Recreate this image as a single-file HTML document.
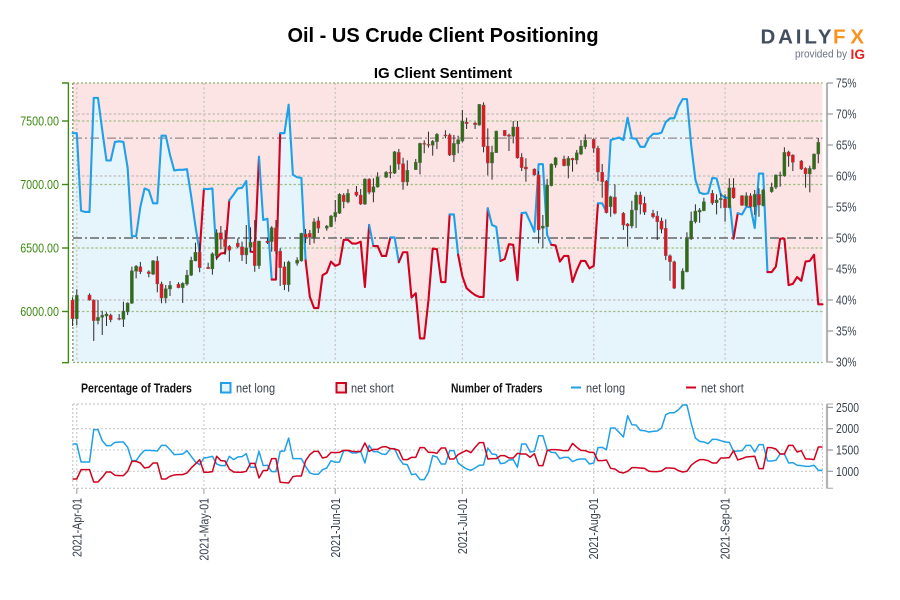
<!DOCTYPE html>
<html lang="en">
<head>
<meta charset="utf-8">
<title>Oil - US Crude Client Positioning</title>
<style>
html,body{margin:0;padding:0;background:#fff}
svg{display:block;font-family:"Liberation Sans",Arial,sans-serif}
</style>
</head>
<body>
<svg id="chart" width="900" height="600" viewBox="0 0 900 600" xmlns="http://www.w3.org/2000/svg">
  <defs>
    <clipPath id="clip-above"><rect x="73" y="83" width="749.5" height="155"/></clipPath>
    <clipPath id="clip-below"><rect x="73" y="238" width="749.5" height="124"/></clipPath>
    <clipPath id="clip-plot"><rect x="72" y="83" width="751" height="280"/></clipPath>
  </defs>
  <rect x="0" y="0" width="900" height="600" fill="#ffffff"/>
  <text x="443" y="42" text-anchor="middle" font-size="20" font-weight="bold" fill="#000">Oil - US Crude Client Positioning</text>
  <text x="443" y="78" text-anchor="middle" font-size="15" font-weight="bold" fill="#000">IG Client Sentiment</text>
  <g>
    <text x="760.5" y="43.4" font-size="20.5" font-weight="bold" fill="#434e5e" textLength="71" lengthAdjust="spacing">DAILY</text>
    <text x="833" y="43.4" font-size="20.5" font-weight="bold" fill="#f7931e" textLength="31" lengthAdjust="spacing">FX</text>
    <text x="795" y="57.5" font-size="11" fill="#6b7380" textLength="52" lengthAdjust="spacingAndGlyphs">provided by</text>
    <text x="850.5" y="59" font-size="14" font-weight="bold" fill="#e0261c" textLength="14.5" lengthAdjust="spacingAndGlyphs">IG</text>
  </g>
  <g id="main-panel"></g>
  <g id="legend"></g>
  <g id="lower-panel"></g>
</svg>
<script>
// ---- chart data ----
const monthLabels = ['2021-Apr-01','2021-May-01','2021-Jun-01','2021-Jul-01','2021-Aug-01','2021-Sep-01'];
const monthDays = [0,30,61,91,122,153];
const priceTicks = [6000,6500,7000,7500];
const percentTicks = [30,35,40,45,50,55,60,65,70,75];
const percentGrid = [40,60,70];
const countTicks = [1000,1500,2000,2500];
const lastPrice = 7365;
const seriesStartDay = -1;

// [day offset from 2021-04-01, open, high, low, close]
const candles = [
[-1,6090,6112,5886,5943],[0,5943,6175,5891,6128],[3,6130,6143,6085,6090],[4,6090,6096,5768,5928],[5,5928,6090,5899,5954],[6,5954,6006,5815,5970],[7,5964,5994,5886,5980],[8,5972,5983,5915,5935],
[10,5946,5980,5931,5941],[11,5938,6077,5878,6004],[12,5996,6072,5972,6067],[13,6065,6353,6059,6321],[14,6317,6366,6261,6356],[15,6353,6390,6295,6313],
[17,6313,6324,6269,6298],[18,6293,6405,6287,6400],[19,6398,6435,6151,6217],[20,6217,6235,6065,6106],[21,6106,6209,6065,6180],[22,6177,6240,6122,6206],
[24,6216,6230,6183,6187],[25,6187,6230,6067,6222],[26,6216,6327,6203,6287],[27,6285,6431,6279,6403],[28,6398,6542,6395,6466],[29,6466,6537,6309,6345],
[31,6348,6384,6335,6337],[32,6335,6466,6290,6455],[33,6439,6647,6405,6620],[34,6620,6673,6490,6568],[35,6568,6642,6445,6510],[36,6513,6524,6392,6482],
[38,6539,6576,6498,6510],[39,6510,6550,6398,6445],[40,6445,6681,6374,6502],[41,6505,6663,6471,6545],[42,6550,6720,6313,6361],[43,6361,6557,6335,6555],
[45,6555,6582,6531,6542],[46,6550,6672,6471,6660],[47,6660,6720,6452,6474],[48,6476,6498,6201,6345],[49,6353,6392,6169,6211],[50,6211,6400,6156,6390],
[52,6379,6427,6361,6405],[53,6398,6620,6392,6616],[54,6610,6650,6539,6584],[55,6616,6642,6524,6584],[56,6576,6734,6537,6707],[57,6715,6746,6618,6655],
[59,6655,6681,6636,6673],[60,6668,6760,6663,6752],[61,6744,6878,6707,6781],[62,6773,6931,6768,6923],[63,6917,6931,6813,6865],[64,6862,6964,6852,6931],
[66,6941,6988,6904,6915],[67,6917,6964,6839,6846],[68,6846,7049,6839,7043],[69,7043,7049,6923,6939],[70,6939,7049,6860,6983],[71,6980,7096,6975,7061],
[73,7057,7106,7051,7096],[74,7096,7151,7049,7090],[75,7088,7264,7083,7258],[76,7253,7280,7116,7161],[77,7164,7211,6959,7020],[78,7020,7190,6990,7112],
[80,7116,7201,7114,7175],[81,7172,7329,7080,7324],[82,7324,7348,7246,7316],[83,7316,7416,7290,7311],[84,7309,7350,7227,7340],[85,7337,7405,7279,7395],
[87,7390,7427,7364,7384],[88,7390,7403,7224,7232],[89,7232,7390,7177,7324],[90,7319,7384,7246,7353],[91,7342,7587,7332,7500],[92,7492,7526,7437,7479],
[94,7484,7494,7437,7471],[95,7468,7634,7463,7631],[96,7626,7647,7253,7298],[97,7303,7442,7072,7169],[98,7169,7305,7038,7253],[99,7250,7424,7248,7421],
[101,7427,7429,7380,7384],[102,7390,7400,7264,7379],[103,7379,7500,7324,7453],[104,7453,7500,7203,7209],[105,7214,7246,7106,7132],[106,7138,7206,7022,7122],
[108,7122,7127,7069,7075],[109,7075,7106,6537,6642],[110,6655,6760,6498,6673],[111,6668,7043,6665,6996],[112,6990,7167,6985,7161],[113,7153,7217,7132,7211],
[115,7201,7227,7143,7148],[116,7148,7224,7049,7206],[117,7206,7211,7101,7193],[118,7193,7272,7159,7250],[119,7240,7350,7232,7303],[120,7298,7395,7279,7350],
[122,7356,7364,7250,7285],[123,7285,7305,7027,7098],[124,7096,7161,6896,7022],[125,7027,7035,6772,6778],[126,6825,6912,6746,6904],[127,6901,7001,6765,6773],
[129,6773,6783,6642,6681],[130,6689,6697,6510,6673],[131,6673,6872,6655,6799],[132,6799,6943,6657,6917],[133,6917,6943,6765,6844],[134,6852,6904,6760,6781],
[136,6773,6801,6734,6746],[137,6752,6791,6563,6707],[138,6713,6739,6616,6647],[139,6655,6726,6405,6439],[140,6439,6450,6242,6392],[141,6392,6400,6177,6183],
[143,6177,6340,6172,6319],[144,6313,6624,6308,6576],[145,6571,6786,6563,6713],[146,6707,6844,6694,6791],[147,6783,6815,6699,6799],[148,6794,6896,6789,6865],
[150,6931,6957,6839,6854],[151,6857,6923,6765,6878],[152,6880,6931,6813,6891],[153,6886,6923,6707,6817],[154,6817,7049,6813,6975],[155,6975,7049,6888,6894],
[157,6912,6917,6831,6836],[158,6833,6938,6825,6912],[159,6912,6931,6817,6825],[160,6823,6957,6760,6923],[161,6923,6970,6746,6839],[162,6833,6965,6828,6957],
[164,6943,7014,6935,6980],[165,6978,7080,6964,7075],[166,7067,7101,6983,7075],[167,7067,7293,7061,7253],[168,7256,7266,7140,7224],[169,7232,7238,7106,7175],
[171,7185,7193,7114,7122],[172,7127,7135,6975,7083],[173,7083,7148,6938,7127],[174,7122,7245,7116,7240],[175,7240,7368,7167,7332]
];

// percent of traders net long, one value per calendar day from seriesStartDay
const percentLong = [
66.9,66.9,54.4,54.2,54.2,72.6,72.6,67.4,62.5,62.5,65.5,65.6,65.5,61.3,50.3,50.3,55.0,58.0,57.7,55.6,55.6,66.5,66.5,63.4,60.9,61.0,61.0,61.1,56.7,51.9,
47.7,57.9,57.9,58.0,46.8,47.5,47.6,56.1,57.0,58.0,58.1,59.2,47.8,47.7,63.1,52.9,53.1,43.3,43.3,66.9,66.9,71.5,60.2,59.8,59.7,46.4,40.5,38.7,38.7,44.0,
44.4,46.2,45.5,45.8,49.7,49.7,49.1,49.1,49.4,42.1,52.1,48.7,48.7,47.1,47.1,50.1,50.1,46.1,47.7,47.7,40.4,41.1,33.8,33.8,40.0,48.3,48.2,42.9,42.9,53.8,
53.8,47.3,43.8,41.9,41.3,40.8,40.5,40.5,54.8,52.1,51.8,46.3,46.6,49.0,48.9,43.2,54.0,54.1,52.6,51.0,61.9,61.9,50.5,48.9,48.8,46.2,47.1,47.1,42.9,44.8,
46.3,46.3,45.1,45.5,55.6,55.6,54.2,65.8,66.0,66.2,65.8,69.4,66.1,66.0,64.7,64.7,66.1,66.8,66.8,67.0,68.7,69.3,69.3,71.2,72.4,72.4,65.0,59.4,57.3,57.1,
57.2,59.7,59.6,57.0,56.5,56.5,49.9,54.0,53.8,55.0,55.0,51.6,60.4,60.4,44.5,44.5,45.4,49.9,49.9,42.4,42.6,43.7,43.1,46.2,46.3,47.3,39.3,39.3
];

// number of traders net long, one value per calendar day from seriesStartDay
const countLong = [
1641,1641,1219,1219,1219,1977,1977,1719,1602,1602,1680,1688,1688,1563,1250,1250,1391,1492,1492,1484,1477,1609,1609,1508,1391,1398,1406,1484,1352,1219,
1156,1313,1328,1352,1172,1133,1133,1352,1273,1336,1344,1414,1094,1094,1469,1133,1141,992,992,1469,1477,1781,1297,1297,1297,1117,961,930,930,1039,
1078,1250,1211,1219,1484,1484,1430,1430,1469,1195,1609,1461,1461,1406,1398,1531,1531,1313,1172,1156,922,938,805,805,977,1367,1336,1172,1172,1484,
1484,1195,1117,1055,1023,1078,1141,1148,1547,1406,1391,1180,1195,1266,1273,1094,1641,1641,1453,1469,1836,1836,1508,1445,1437,1297,1328,1328,1227,1273,
1289,1289,1172,1195,1555,1563,1508,2016,2016,1914,1805,2305,2094,2086,1961,1953,1922,1937,1945,2016,2328,2375,2375,2445,2555,2555,2133,1781,1703,1688,
1648,1750,1750,1719,1688,1680,1469,1477,1484,1609,1609,1453,1625,1625,1242,1242,1258,1406,1406,1195,1203,1141,1133,1117,1117,1141,1023,1023
];

// number of traders net short, one value per calendar day from seriesStartDay
const countShort = [
820,820,1039,1039,1039,750,750,859,984,984,906,898,898,1000,1234,1234,1195,1078,1094,1195,1195,820,820,883,914,922,922,961,1078,1172,
1273,977,977,992,1352,1250,1242,1055,984,977,977,1000,1187,1187,844,1016,1023,1297,1297,742,734,726,875,891,891,1250,1391,1469,1469,1313,
1336,1445,1437,1445,1492,1492,1469,1461,1469,1664,1469,1516,1516,1570,1578,1531,1523,1492,1273,1273,1328,1328,1555,1555,1445,1445,1422,1547,1547,1289,
1289,1391,1445,1492,1437,1563,1672,1672,1289,1297,1297,1367,1367,1313,1313,1422,1406,1406,1328,1414,1133,1133,1484,1508,1508,1500,1484,1484,1656,1563,
1492,1484,1445,1445,1250,1250,1266,1070,1055,984,961,1000,1086,1086,1078,1070,1000,992,992,1008,1078,1078,1070,1016,984,1000,1141,1219,1273,1273,
1250,1195,1195,1313,1313,1320,1484,1266,1297,1336,1344,1352,1062,1062,1555,1555,1523,1406,1406,1609,1609,1453,1484,1289,1289,1273,1570,1570
];

// ---- scales ----
const SVGNS = 'http://www.w3.org/2000/svg';
const xDay = d => 76.8 + 4.237 * d;
const yPrice = p => 311.5 - (p - 6000) * 63.5 / 500;
const yPct = v => 362 - (v - 30) * 6.2;
const yCount = v => 471.3 - (v - 1000) * 21.3 / 500;

const COL = {blue:'#1fa0e8', red:'#d0021f', pink:'#fce4e5', sky:'#e6f4fc', green:'#3c8a12', grey:'#b9b9b9', axisText:'#39434f'};

function svgEl(tag, attrs, parent) {
  const el = document.createElementNS(SVGNS, tag);
  for (const k in attrs) el.setAttribute(k, attrs[k]);
  parent.appendChild(el);
  return el;
}

const main = document.getElementById('main-panel');
const legend = document.getElementById('legend');
const lower = document.getElementById('lower-panel');

// ---- main panel backgrounds ----
let el = svgEl('rect', {x:73, y:83, width:749.5, height:yPct(50)-83, fill:COL.pink}, main);


el = svgEl('rect', {x:73, y:yPct(50), width:749.5, height:362-yPct(50), fill:COL.sky}, main);



// ---- sentiment area fills ----
const sentimentPoints = percentLong.map((v,i) => [xDay(i+seriesStartDay), yPct(v)]);
const first = sentimentPoints[0], last = sentimentPoints[sentimentPoints.length-1];
const areaPts = [[first[0],yPct(50)]].concat(sentimentPoints, [[last[0],yPct(50)]]).map(p => p[0].toFixed(2)+','+p[1].toFixed(2)).join(' ');
el = svgEl('polygon', {points:areaPts, fill:COL.sky, 'clip-path':'url(#clip-above)'}, main);


el = svgEl('polygon', {points:areaPts, fill:COL.pink, 'clip-path':'url(#clip-below)'}, main);



// ---- grid ----
percentGrid.forEach(v => {
  const g = svgEl('line', {x1:73, x2:822.5, y1:yPct(v), y2:yPct(v), stroke:'#c4bcbc', 'stroke-width':1.2, 'stroke-dasharray':'2.5 2'}, main);
  
  
});
priceTicks.forEach(p => {
  const g = svgEl('line', {x1:73, x2:822.5, y1:yPrice(p), y2:yPrice(p), stroke:'#a4bf86', 'stroke-width':1.2, 'stroke-dasharray':'2.5 2'}, main);
  
  
});
[83, 362.5].forEach(y => {
  const g = svgEl('line', {x1:73, x2:822.5, y1:y, y2:y, stroke:'#8fb06c', 'stroke-width':1.2, 'stroke-dasharray':'2 2'}, main);
  
  
});
monthDays.forEach(d => {
  const g = svgEl('line', {x1:xDay(d), x2:xDay(d), y1:83, y2:362, stroke:'#c2c2c2', 'stroke-width':1.2, 'stroke-dasharray':'2 2.5'}, main);
  
  
});
el = svgEl('line', {x1:72.8, x2:72.8, y1:83, y2:362, stroke:'#7f9a66', 'stroke-width':1.4, 'stroke-dasharray':'2 2'}, main);



// ---- reference lines ----
el = svgEl('line', {x1:73, x2:822.5, y1:yPrice(lastPrice), y2:yPrice(lastPrice), stroke:'#958a8a', 'stroke-width':1.2, 'stroke-dasharray':'9 3 2 3'}, main);


el = svgEl('line', {x1:73, x2:822.5, y1:yPct(50), y2:yPct(50), stroke:'#7a7a7a', 'stroke-width':1.8, 'stroke-dasharray':'9 3 2 3'}, main);



// ---- sentiment line: each segment coloured by the side of 50% it starts on ----
let run = [sentimentPoints[0]];
let runAbove = percentLong[0] >= 50;
function flushRun(pts, above) {
  const line = svgEl('polyline', {points:pts.map(p => p[0].toFixed(2)+','+p[1].toFixed(2)).join(' '), fill:'none', stroke:above?COL.blue:COL.red, 'stroke-width':2.1, 'stroke-linejoin':'round', 'stroke-linecap':'round'}, main);
  
  
}
for (let i = 1; i < sentimentPoints.length; i++) {
  const startAbove = percentLong[i-1] >= 50;
  if (startAbove !== runAbove) {
    flushRun(run, runAbove);
    run = [sentimentPoints[i-1]];
    runAbove = startAbove;
  }
  run.push(sentimentPoints[i]);
}
flushRun(run, runAbove);

// ---- candles ----
candles.forEach(c => {
  const x = xDay(c[0]), up = c[4] >= c[1];
  const top = yPrice(Math.max(c[1], c[4])), bot = yPrice(Math.min(c[1], c[4]));
  const wick = svgEl('line', {x1:x, x2:x, y1:yPrice(c[2]), y2:yPrice(c[3]), stroke:'#2a2a2a', 'stroke-width':1}, main);
  
  
  const body = svgEl('rect', {x:x-1.6, y:top, width:3.2, height:Math.max(bot-top,1), fill:up?'#2f6d14':'#e2161f', stroke:'#6a6a6a', 'stroke-width':0.35}, main);
  
  
});

// ---- axis text helper: glyphs narrowed horizontally like the source renderer ----
function narrowText(str, x, y, anchor, fill, parent, opts) {
  const o = opts || {};
  const t = svgEl('text', {
    transform:'translate('+x+','+y+')' + (o.rotate ? ' rotate('+o.rotate+')' : '') + ' scale('+(o.sx||0.86)+',1)',
    'text-anchor':anchor, 'font-size':o.size||12.5, 'font-weight':o.weight||'normal', fill:fill
  }, parent);
  t.textContent = str;
  return t;
}

// ---- left price axis ----
el = svgEl('path', {d:'M62 83H68.4V362.7H62', fill:'none', stroke:COL.green, 'stroke-width':1.4}, main);


priceTicks.forEach(p => {
  const tick = svgEl('line', {x1:62, x2:68, y1:yPrice(p), y2:yPrice(p), stroke:COL.green, 'stroke-width':1.4}, main);
  
  
  const lab = narrowText(p.toFixed(2), 59, yPrice(p)+4.5, 'end', COL.green, main);
  
  
});

// ---- right percent axis ----
el = svgEl('line', {x1:827, x2:827, y1:83, y2:362.5, stroke:'#b4b4b4', 'stroke-width':2.2}, main);


percentTicks.forEach(v => {
  const tick = svgEl('line', {x1:827, x2:833, y1:yPct(v), y2:yPct(v), stroke:'#9a9a9a', 'stroke-width':1.2}, main);
  
  
  const lab = narrowText(v+'%', 836, yPct(v)+4.5, 'start', COL.axisText, main, {sx:0.82});
  
  
});

// ---- legend ----
let t = narrowText('Percentage of Traders', 81, 392.5, 'start', '#111', legend, {weight:'bold', sx:0.845});


el = svgEl('rect', {x:221, y:383, width:9.5, height:9.5, fill:COL.sky, stroke:COL.blue, 'stroke-width':2}, legend);


t = narrowText('net long', 236, 392.5, 'start', COL.axisText, legend, {sx:0.88});


el = svgEl('rect', {x:336.5, y:383, width:9.5, height:9.5, fill:COL.pink, stroke:COL.red, 'stroke-width':2}, legend);


t = narrowText('net short', 351, 392.5, 'start', COL.axisText, legend, {sx:0.88});


t = narrowText('Number of Traders', 451, 392.5, 'start', '#111', legend, {weight:'bold', sx:0.825});


el = svgEl('line', {x1:571, x2:581, y1:387.5, y2:387.5, stroke:COL.blue, 'stroke-width':2}, legend);


t = narrowText('net long', 586, 392.5, 'start', COL.axisText, legend, {sx:0.88});


el = svgEl('line', {x1:686, x2:696, y1:387.5, y2:387.5, stroke:COL.red, 'stroke-width':2}, legend);


t = narrowText('net short', 701, 392.5, 'start', COL.axisText, legend, {sx:0.88});



// ---- lower panel ----
[404, 488.3].forEach(y => {
  const g = svgEl('line', {x1:73, x2:822.5, y1:y, y2:y, stroke:'#bdbdbd', 'stroke-width':1, 'stroke-dasharray':'2 2'}, lower);
  
  
});
countTicks.slice(0,3).forEach(v => {
  const g = svgEl('line', {x1:73, x2:822.5, y1:yCount(v), y2:yCount(v), stroke:'#c4c4c4', 'stroke-width':1, 'stroke-dasharray':'2 2'}, lower);
  
  
});
el = svgEl('line', {x1:72.8, x2:72.8, y1:404, y2:488, stroke:'#bdbdbd', 'stroke-width':1, 'stroke-dasharray':'2 2'}, lower);


el = svgEl('line', {x1:822.5, x2:822.5, y1:404, y2:488, stroke:'#cfcfcf', 'stroke-width':1, 'stroke-dasharray':'2 2'}, lower);


monthDays.forEach(d => {
  const g = svgEl('line', {x1:xDay(d), x2:xDay(d), y1:404, y2:488, stroke:'#c4c4c4', 'stroke-width':1, 'stroke-dasharray':'2 2'}, lower);
  
  
});
const toPoints = arr => arr.map((v,i) => xDay(i+seriesStartDay).toFixed(2)+','+yCount(v).toFixed(2)).join(' ');
el = svgEl('polyline', {points:toPoints(countLong), fill:'none', stroke:COL.blue, 'stroke-width':1.5, 'stroke-linejoin':'round'}, lower);


el = svgEl('polyline', {points:toPoints(countShort), fill:'none', stroke:COL.red, 'stroke-width':1.5, 'stroke-linejoin':'round'}, lower);



// count axis
el = svgEl('path', {d:'M833 404H827V488.3H833', fill:'none', stroke:'#a8a8a8', 'stroke-width':1}, lower);


el = svgEl('line', {x1:827, x2:827, y1:404, y2:488.3, stroke:'#b4b4b4', 'stroke-width':2.2}, lower);


countTicks.forEach(v => {
  const tick = svgEl('line', {x1:827, x2:833, y1:yCount(v), y2:yCount(v), stroke:'#9a9a9a', 'stroke-width':1.2}, lower);
  
  
  const lab = narrowText(String(v), 836, yCount(v)+4.5, 'start', COL.axisText, lower, {sx:0.83});
  
  
});

// date axis
monthDays.forEach((d,i) => {
  const tick = svgEl('line', {x1:xDay(d), x2:xDay(d), y1:488.3, y2:494, stroke:'#a8a8a8', 'stroke-width':1.2}, lower);
  
  
  const lab = narrowText(monthLabels[i], xDay(d)+4.5, 498, 'end', COL.axisText, lower, {rotate:-90, sx:0.85});
  
  
});
</script>
</body>
</html>
